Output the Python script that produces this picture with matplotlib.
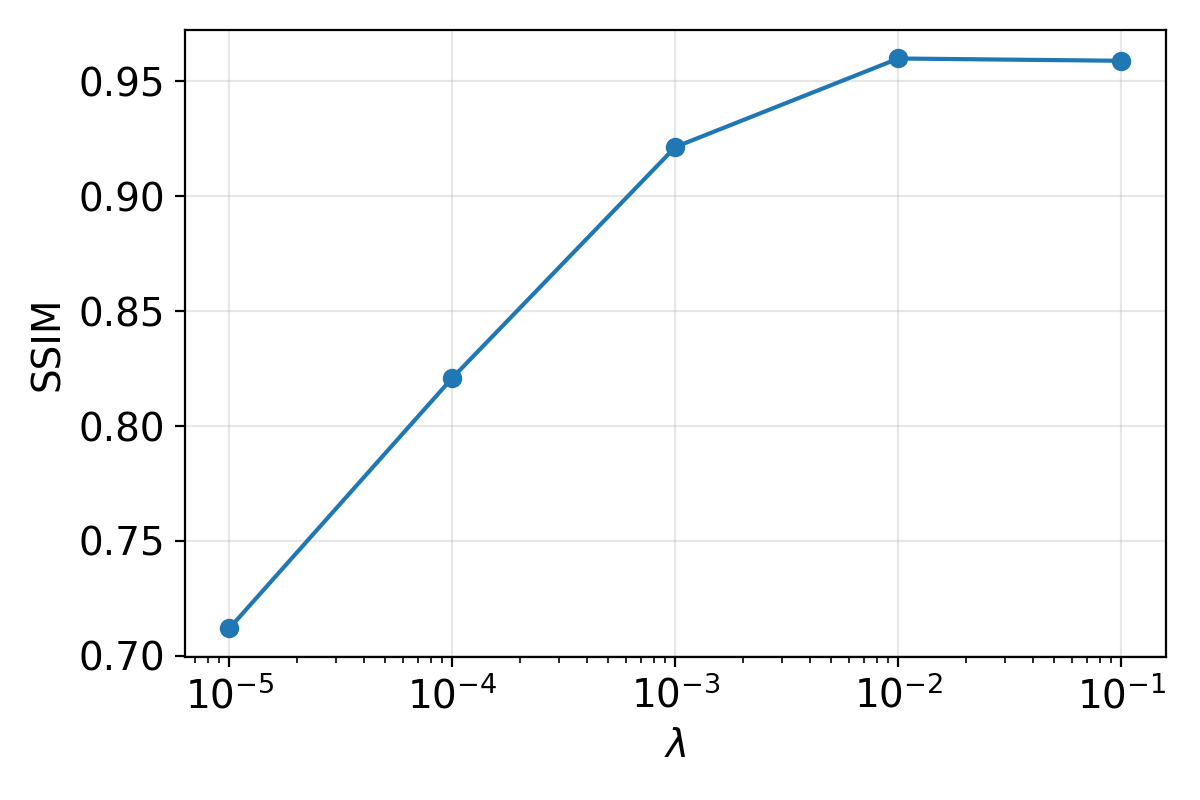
import matplotlib
matplotlib.use("Agg")
import matplotlib.pyplot as plt

lambdas = [1e-5, 1e-4, 1e-3, 1e-2, 1e-1]
ssim = [0.712, 0.821, 0.9215, 0.960, 0.959]

fig, ax = plt.subplots(figsize=(6, 4), dpi=200)
ax.plot(lambdas, ssim, marker='o', color='#1f77b4', linewidth=1.5, markersize=6)
ax.set_xscale('log')
ax.set_xlabel(r'$\lambda$', fontsize=14)
ax.set_ylabel('SSIM', fontsize=14)
ax.tick_params(axis='both', labelsize=14)
ax.grid(True, alpha=0.3)
fig.subplots_adjust(left=0.154, right=0.9717, top=0.9625, bottom=0.179)
fig.savefig('out.png')
